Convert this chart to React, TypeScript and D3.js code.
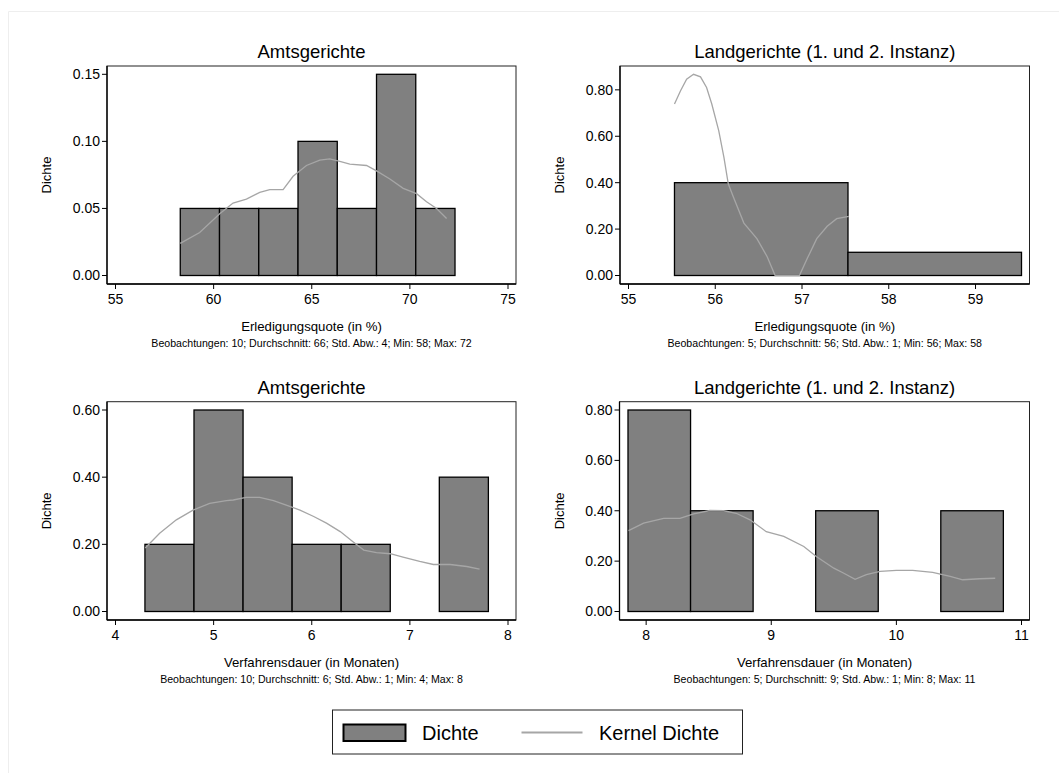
import React from "react";
import * as d3 from "d3";

// ---------- Data ----------
const titles = ["Amtsgerichte", "Landgerichte (1. und 2. Instanz)", "Amtsgerichte", "Landgerichte (1. und 2. Instanz)"];
const xTitles = ["Erledigungsquote (in %)", "Erledigungsquote (in %)", "Verfahrensdauer (in Monaten)", "Verfahrensdauer (in Monaten)"];
const notes = [
  "Beobachtungen: 10; Durchschnitt: 66; Std. Abw.: 4; Min: 58; Max: 72",
  "Beobachtungen: 5; Durchschnitt: 56; Std. Abw.: 1; Min: 56; Max: 58",
  "Beobachtungen: 10; Durchschnitt: 6; Std. Abw.: 1; Min: 4; Max: 8",
  "Beobachtungen: 5; Durchschnitt: 9; Std. Abw.: 1; Min: 8; Max: 11",
];

// Panel 1: Amtsgerichte – Erledigungsquote
const p1BinStarts = [58.3, 60.3, 62.3, 64.3, 66.3, 68.3, 70.3];
const p1BinWidth = 2;
const p1Density = [0.05, 0.05, 0.05, 0.10, 0.05, 0.15, 0.05];
const p1KernelX = [58.3, 59.29, 60.31, 60.99, 61.67, 62.35, 62.86, 63.54, 64.05, 64.73, 65.41, 65.92, 66.43, 66.94, 67.79, 68.3, 68.98, 69.66, 70.34, 70.85, 71.36, 71.87];
const p1KernelY = [0.024, 0.032, 0.046, 0.054, 0.057, 0.062, 0.064, 0.064, 0.074, 0.082, 0.086, 0.087, 0.085, 0.083, 0.082, 0.078, 0.072, 0.065, 0.061, 0.055, 0.050, 0.0425];
const p1XTicks = [55, 60, 65, 70, 75];
const p1YTicks = [0, 0.05, 0.10, 0.15];

// Panel 2: Landgerichte – Erledigungsquote
const p2BinStarts = [55.53, 57.53];
const p2BinWidth = 2;
const p2Density = [0.40, 0.10];
const p2KernelX = [55.53, 55.6, 55.67, 55.75, 55.83, 55.9, 55.96, 56.04, 56.1, 56.15, 56.21, 56.33, 56.48, 56.6, 56.69, 56.79, 56.97, 57.06, 57.17, 57.29, 57.4, 57.54];
const p2KernelY = [0.739, 0.796, 0.846, 0.867, 0.856, 0.81, 0.739, 0.624, 0.509, 0.395, 0.337, 0.226, 0.159, 0.08, 0, 0, 0, 0.073, 0.159, 0.212, 0.245, 0.255];
const p2XTicks = [55, 56, 57, 58, 59];
const p2YTicks = [0, 0.2, 0.4, 0.6, 0.8];

// Panel 3: Amtsgerichte – Verfahrensdauer
const p3BinStarts = [4.3, 4.8, 5.3, 5.8, 6.3, 6.8, 7.3];
const p3BinWidth = 0.5;
const p3Density = [0.2, 0.6, 0.4, 0.2, 0.2, 0, 0.4];
const p3KernelX = [4.303, 4.45, 4.62, 4.79, 4.96, 5.13, 5.2, 5.33, 5.47, 5.61, 5.74, 5.88, 6.02, 6.15, 6.29, 6.42, 6.53, 6.66, 6.8, 6.93, 7.1, 7.24, 7.41, 7.58, 7.71];
const p3KernelY = [0.189, 0.233, 0.273, 0.302, 0.322, 0.33, 0.332, 0.34, 0.34, 0.33, 0.317, 0.302, 0.283, 0.263, 0.238, 0.208, 0.183, 0.175, 0.172, 0.162, 0.149, 0.14, 0.14, 0.134, 0.126];
const p3XTicks = [4, 5, 6, 7, 8];
const p3YTicks = [0, 0.2, 0.4, 0.6];

// Panel 4: Landgerichte – Verfahrensdauer
const p4BinStarts = [7.855, 8.355, 8.855, 9.355, 9.855, 10.355];
const p4BinWidth = 0.5;
const p4Density = [0.8, 0.4, 0, 0.4, 0, 0.4];
const p4KernelX = [7.859, 7.98, 8.14, 8.27, 8.38, 8.51, 8.62, 8.72, 8.83, 8.96, 9.1, 9.26, 9.36, 9.5, 9.58, 9.67, 9.76, 9.87, 10.0, 10.13, 10.29, 10.43, 10.53, 10.67, 10.79];
const p4KernelY = [0.321, 0.351, 0.37, 0.37, 0.388, 0.401, 0.4, 0.39, 0.364, 0.317, 0.298, 0.258, 0.218, 0.172, 0.152, 0.128, 0.146, 0.159, 0.163, 0.163, 0.155, 0.139, 0.126, 0.13, 0.132];
const p4XTicks = [8, 9, 10, 11];
const p4YTicks = [0, 0.2, 0.4, 0.6, 0.8];

const legendLabels = ["Dichte", "Kernel Dichte"];

// ---------- Styling ----------
const FONT = "'Liberation Sans', Arial, Helvetica, sans-serif";
const BAR_FILL = "#808080";
const KERNEL = "#a6a6a6";

type PanelData = {
  binStarts: number[]; binWidth: number; density: number[];
  kx: number[]; ky: number[]; xTicks: number[]; yTicks: number[];
  title: string; xTitle: string; note: string;
};

const panels: PanelData[] = [
  { binStarts: p1BinStarts, binWidth: p1BinWidth, density: p1Density, kx: p1KernelX, ky: p1KernelY, xTicks: p1XTicks, yTicks: p1YTicks, title: titles[0], xTitle: xTitles[0], note: notes[0] },
  { binStarts: p2BinStarts, binWidth: p2BinWidth, density: p2Density, kx: p2KernelX, ky: p2KernelY, xTicks: p2XTicks, yTicks: p2YTicks, title: titles[1], xTitle: xTitles[1], note: notes[1] },
  { binStarts: p3BinStarts, binWidth: p3BinWidth, density: p3Density, kx: p3KernelX, ky: p3KernelY, xTicks: p3XTicks, yTicks: p3YTicks, title: titles[2], xTitle: xTitles[2], note: notes[2] },
  { binStarts: p4BinStarts, binWidth: p4BinWidth, density: p4Density, kx: p4KernelX, ky: p4KernelY, xTicks: p4XTicks, yTicks: p4YTicks, title: titles[3], xTitle: xTitles[3], note: notes[3] },
];

// frames: [left, top, right, bottom]
const frames = [
  [107, 66, 516, 284],
  [620, 66, 1029.5, 284],
  [107, 401.7, 516, 620],
  [619.5, 401.7, 1029.5, 620],
];

function Panel({ d, frame }: { d: PanelData; frame: number[] }) {
  const [L, T, R, B] = frame;
  const xs = [...d.xTicks, ...d.binStarts, ...d.binStarts.map((s) => s + d.binWidth), ...d.kx];
  const x = d3.scaleLinear().domain([d3.min(xs)!, d3.max(xs)!]).range([L + 8.5, R - 8]);
  const yMax = d3.max([...d.yTicks, ...d.density, ...d.ky])!;
  const y = d3.scaleLinear().domain([0, yMax]).range([B - 8.5, T + 8.3]);
  const line = d3.line<number>().x((_, i) => x(d.kx[i])).y((v) => y(v)).curve(d3.curveLinear);
  const fmtY = d3.format(".2f");
  const cx = (L + R) / 2;
  return (
    <g>
      <text x={cx} y={T - 8} textAnchor="middle" fontSize={18.5} fill="#000">{d.title}</text>
      <rect x={L} y={T} width={R - L} height={B - T} fill="#fff" stroke="#222" strokeWidth={1} />
      {d.binStarts.map((s, i) =>
        d.density[i] > 0 ? (
          <rect key={i} x={x(s)} y={y(d.density[i])} width={x(s + d.binWidth) - x(s)} height={y(0) - y(d.density[i])}
            fill={BAR_FILL} stroke="#000" strokeWidth={1.3} />
        ) : null
      )}
      <path d={line(d.ky) || ""} fill="none" stroke={KERNEL} strokeWidth={1.3} />
      {/* axes */}
      <line x1={L} x2={L} y1={T} y2={B} stroke="#000" strokeWidth={1.3} />
      <line x1={L} x2={R} y1={B} y2={B} stroke="#000" strokeWidth={1.3} />
      {d.yTicks.map((t) => (
        <g key={"y" + t}>
          <line x1={L - 5} x2={L} y1={y(t)} y2={y(t)} stroke="#000" strokeWidth={1} />
          <text x={L - 7} y={y(t)} dy="0.35em" textAnchor="end" fontSize={14} fill="#000">{fmtY(t)}</text>
        </g>
      ))}
      {d.xTicks.map((t) => (
        <g key={"x" + t}>
          <line x1={x(t)} x2={x(t)} y1={B} y2={B + 5} stroke="#000" strokeWidth={1} />
          <text x={x(t)} y={B + 20} textAnchor="middle" fontSize={14} fill="#000">{t}</text>
        </g>
      ))}
      <text transform={`translate(${L - 56},${(T + B) / 2}) rotate(-90)`} textAnchor="middle" fontSize={13} fill="#000">Dichte</text>
      <text x={cx} y={B + 46.5} textAnchor="middle" fontSize={13.2} fill="#000">{d.xTitle}</text>
      <text x={cx} y={B + 62.5} textAnchor="middle" fontSize={10.6} fill="#000">{d.note}</text>
    </g>
  );
}

export default function App() {
  return (
    <svg width={1059} height={773} style={{ position: "absolute", left: 0, top: 0, background: "#fff" }} fontFamily={FONT}>
      <rect x={0} y={0} width={1059} height={773} fill="#fff" />
      <line x1={8.5} x2={1059} y1={11.5} y2={11.5} stroke="#eeeeee" strokeWidth={1} />
      <line x1={8.5} x2={8.5} y1={11.5} y2={773} stroke="#eeeeee" strokeWidth={1} />
      {panels.map((p, i) => (
        <Panel key={i} d={p} frame={frames[i]} />
      ))}
      {/* legend */}
      <g>
        <rect x={332.5} y={710} width={410} height={44} fill="#fff" stroke="#222" strokeWidth={1} />
        <rect x={343.5} y={724.5} width={62} height={16.5} fill={BAR_FILL} stroke="#000" strokeWidth={2} />
        <text x={422} y={739.5} fontSize={20} fill="#000">{legendLabels[0]}</text>
        <line x1={521.5} x2={582.5} y1={732.5} y2={732.5} stroke={KERNEL} strokeWidth={2} />
        <text x={599} y={739.5} fontSize={20} fill="#000">{legendLabels[1]}</text>
      </g>
    </svg>
  );
}
